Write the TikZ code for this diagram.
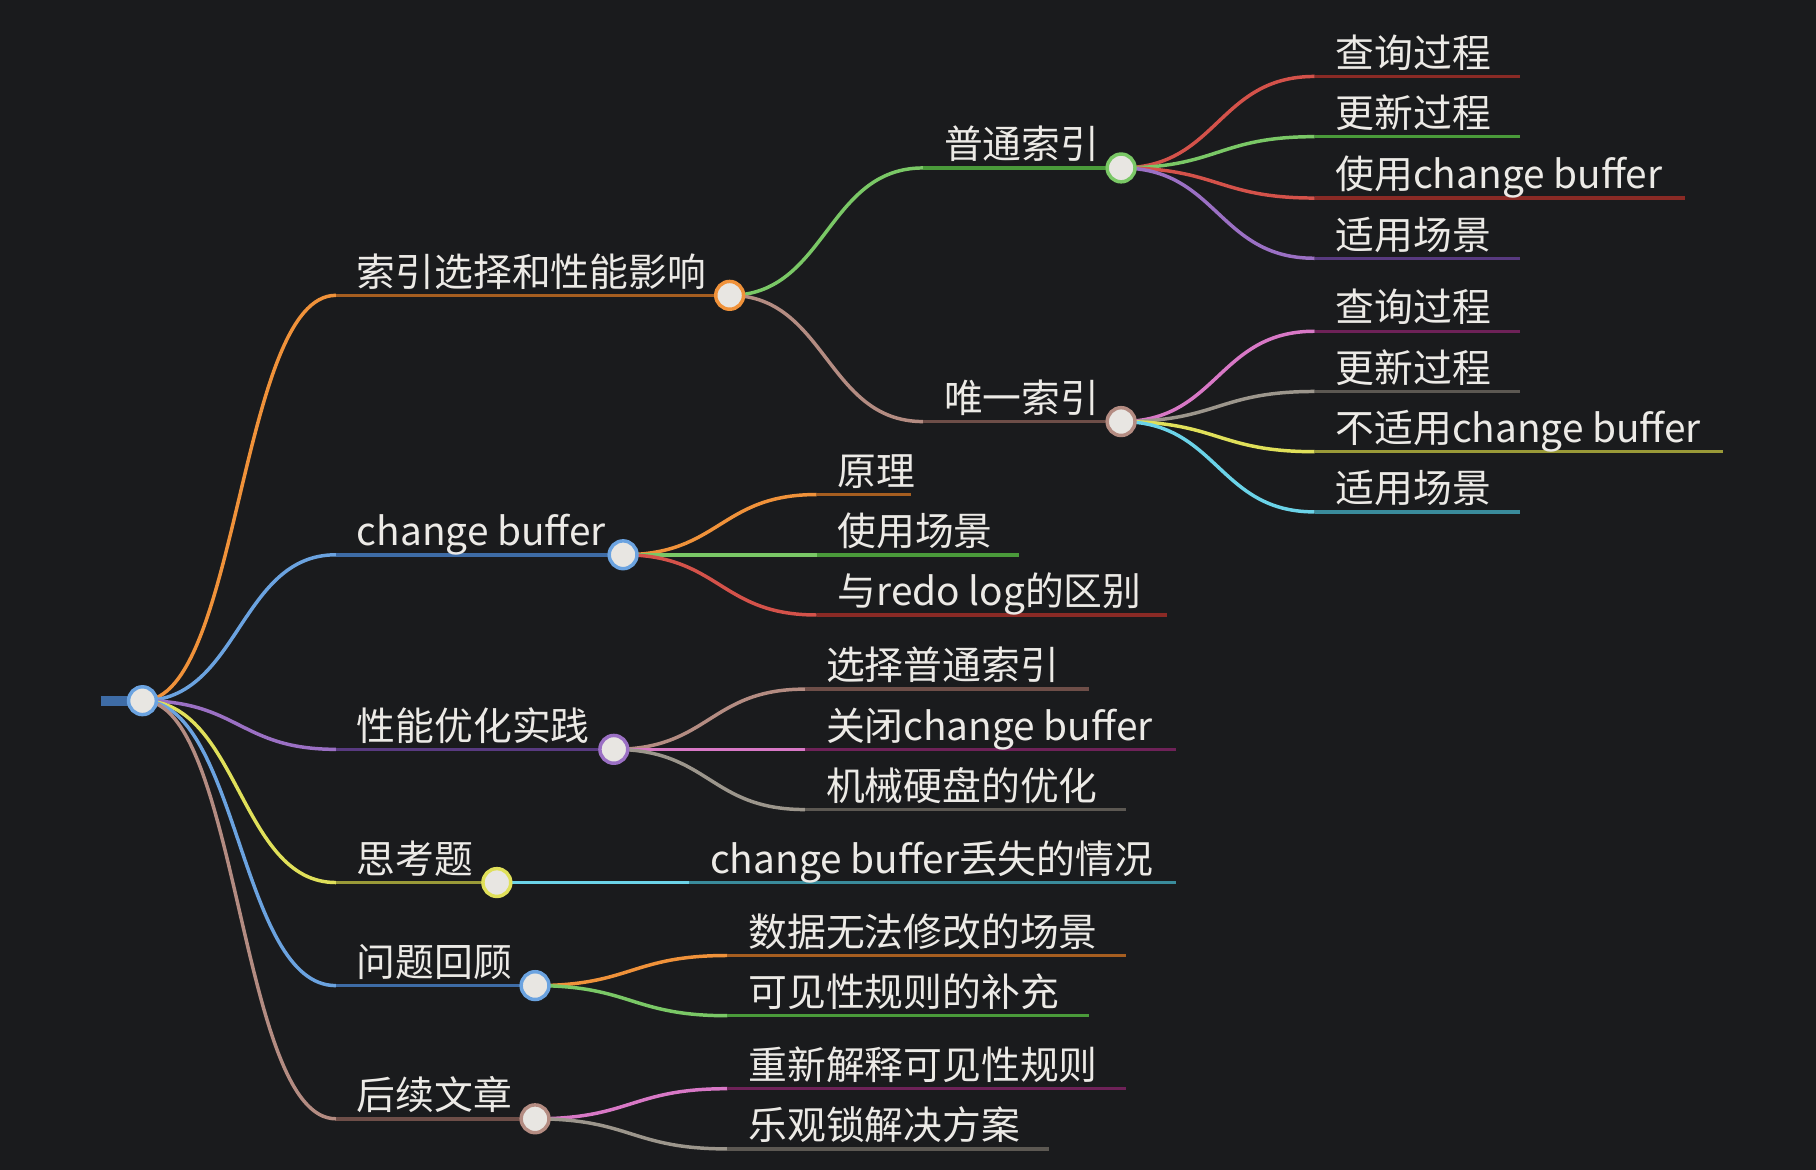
\documentclass[tikz,border=0pt]{standalone}
\usepackage{fontspec}
\setmainfont{Noto Sans CJK SC}
\usetikzlibrary{calc,positioning}

\definecolor{bgc}{HTML}{1A1B1D}
\definecolor{txt}{HTML}{ECEAE6}
\definecolor{dotfill}{HTML}{E8E6E2}
% bright link colours and darker underline colours
\definecolor{orng}{HTML}{F0923A}  \definecolor{orngd}{HTML}{A65E20}
\definecolor{blu}{HTML}{6BA3E0}   \definecolor{blud}{HTML}{3E6CA6}
\definecolor{purp}{HTML}{9B70C4}  \definecolor{purpd}{HTML}{583A80}
\definecolor{yell}{HTML}{E0E05A}  \definecolor{yelld}{HTML}{9A9A38}
\definecolor{brwn}{HTML}{B48C82}  \definecolor{brwnd}{HTML}{6E4E48}
\definecolor{grn}{HTML}{7AC866}   \definecolor{grnd}{HTML}{4A9A3A}
\definecolor{red}{HTML}{D4524A}   \definecolor{redd}{HTML}{8A2A25}
\definecolor{pink}{HTML}{D878C6}  \definecolor{pinkd}{HTML}{6E2258}
\definecolor{gry}{HTML}{9C968C}   \definecolor{gryd}{HTML}{5C5852}
\definecolor{cyn}{HTML}{6BD3E8}   \definecolor{cynd}{HTML}{3A8C9C}

\tikzset{
  lbl/.style={inner sep=0pt, text=txt, font=\fontsize{33.5}{40}\selectfont},
  dot/.style={circle, draw=#1, fill=dotfill, line width=3pt, minimum size=24pt, inner sep=0pt},
  wire/.style={line width=3pt, draw=#1},
}

% curved link from a parent point to a child's line start
\newcommand{\branch}[3]{%
  \draw[wire=#3] let \p1=(#1), \p2=(#2), \n1={(\x2-\x1)/2} in
    (\p1) .. controls ($(\p1)+(\n1,0)$) and ($(\p2)-(\n1,0)$) .. (\p2);}

\begin{document}
\begin{tikzpicture}[x=1pt, y=-1pt]
\fill[bgc] (0,0) rectangle (1568,1010);
\useasboundingbox (0,0) rectangle (1568,1010);

% root
\coordinate (r0) at (87,605);
\coordinate (r) at (123,605);
\draw[line width=8.5pt, blud] (r0) -- (r);

% first level
\coordinate (a-s) at (290,255); \coordinate (a) at (630,255);
\coordinate (b-s) at (290,479); \coordinate (b) at (538,479);
\coordinate (c-s) at (290,647); \coordinate (c) at (530,647);
\coordinate (d-s) at (290,762); \coordinate (d) at (429,762);
\coordinate (e-s) at (290,851); \coordinate (e) at (462,851);
\coordinate (f-s) at (290,966); \coordinate (f) at (462,966);

% second level
\coordinate (a1-s) at (797,145); \coordinate (a1) at (968,145);
\coordinate (a2-s) at (797,364); \coordinate (a2) at (968,364);
\coordinate (b1-s) at (705,427); \coordinate (b1) at (787,427);
\coordinate (b2-s) at (705,479); \coordinate (b2) at (880,479);
\coordinate (b3-s) at (705,531); \coordinate (b3) at (1008,531);
\coordinate (c1-s) at (695,595); \coordinate (c1) at (940,595);
\coordinate (c2-s) at (695,647); \coordinate (c2) at (1015,647);
\coordinate (c3-s) at (695,699); \coordinate (c3) at (972,699);
\coordinate (d1-s) at (595,762); \coordinate (d1) at (1015,762);
\coordinate (e1-s) at (628,825); \coordinate (e1) at (972,825);
\coordinate (e2-s) at (628,877); \coordinate (e2) at (940,877);
\coordinate (f1-s) at (628,940); \coordinate (f1) at (972,940);
\coordinate (f2-s) at (628,992); \coordinate (f2) at (906,992);

% third level
\coordinate (a11-s) at (1135,66);  \coordinate (a11) at (1312,66);
\coordinate (a12-s) at (1135,118); \coordinate (a12) at (1312,118);
\coordinate (a13-s) at (1135,171); \coordinate (a13) at (1455,171);
\coordinate (a14-s) at (1135,223); \coordinate (a14) at (1312,223);
\coordinate (a21-s) at (1135,286); \coordinate (a21) at (1312,286);
\coordinate (a22-s) at (1135,338); \coordinate (a22) at (1312,338);
\coordinate (a23-s) at (1135,390); \coordinate (a23) at (1488,390);
\coordinate (a24-s) at (1135,442); \coordinate (a24) at (1312,442);

% links
\branch{r}{a-s}{orng} \branch{r}{b-s}{blu} \branch{r}{c-s}{purp}
\branch{r}{d-s}{yell} \branch{r}{e-s}{blu} \branch{r}{f-s}{brwn}
\branch{a}{a1-s}{grn} \branch{a}{a2-s}{brwn}
\branch{b}{b1-s}{orng} \branch{b}{b2-s}{grn} \branch{b}{b3-s}{red}
\branch{c}{c1-s}{brwn} \branch{c}{c2-s}{pink} \branch{c}{c3-s}{gry}
\branch{d}{d1-s}{cyn}
\branch{e}{e1-s}{orng} \branch{e}{e2-s}{grn}
\branch{f}{f1-s}{pink} \branch{f}{f2-s}{gry}
\branch{a1}{a11-s}{red} \branch{a1}{a12-s}{grn} \branch{a1}{a13-s}{red} \branch{a1}{a14-s}{purp}
\branch{a2}{a21-s}{pink} \branch{a2}{a22-s}{gry} \branch{a2}{a23-s}{yell} \branch{a2}{a24-s}{cyn}

% underlines
\foreach \k/\col in {a/orngd, b/blud, c/purpd, d/yelld, e/blud, f/brwnd,
    a1/grnd, a2/brwnd, b1/orngd, b2/grnd, b3/redd, c1/brwnd, c2/pinkd, c3/gryd,
    d1/cynd, e1/orngd, e2/grnd, f1/pinkd, f2/gryd,
    a11/redd, a12/grnd, a13/redd, a14/purpd, a21/pinkd, a22/gryd, a23/yelld, a24/cynd}
  \draw[wire=\col] (\k-s) -- (\k);

% labels
\foreach \k/\txt in {a/索引选择和性能影响, b/change buffer, c/性能优化实践, d/思考题,
    e/问题回顾, f/后续文章, a1/普通索引, a2/唯一索引, b1/原理, b2/使用场景,
    b3/与redo log的区别, c1/选择普通索引, c2/关闭change buffer, c3/机械硬盘的优化,
    d1/change buffer丢失的情况, e1/数据无法修改的场景, e2/可见性规则的补充,
    f1/重新解释可见性规则, f2/乐观锁解决方案, a11/查询过程, a12/更新过程,
    a13/使用change buffer, a14/适用场景, a21/查询过程, a22/更新过程,
    a23/不适用change buffer, a24/适用场景}
  \node[lbl, above right=8pt and 18pt of \k-s, anchor=base west] (\k-t) {\txt};

% dots
\node[dot=blu]  (r-d)  at (r)  {};
\node[dot=orng] (a-d)  at (a)  {};
\node[dot=blu]  (b-d)  at (b)  {};
\node[dot=purp] (c-d)  at (c)  {};
\node[dot=yell] (d-d)  at (d)  {};
\node[dot=blu]  (e-d)  at (e)  {};
\node[dot=brwn] (f-d)  at (f)  {};
\node[dot=grn]  (a1-d) at (a1) {};
\node[dot=brwn] (a2-d) at (a2) {};
\end{tikzpicture}
\end{document}
